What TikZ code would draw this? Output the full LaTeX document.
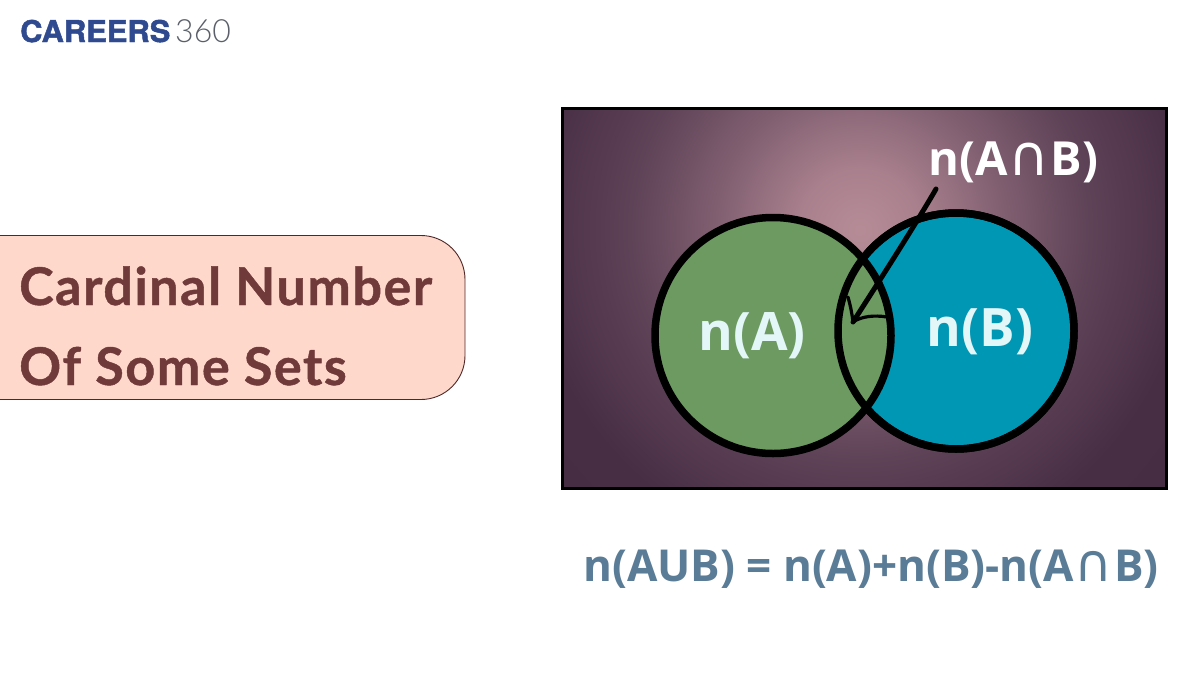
\documentclass[tikz,border=0pt]{standalone}
\usepackage{fontspec}
\setmainfont{Open Sans}
\newfontfamily\titlefont[LetterSpace=3.0,FakeBold=0.9]{Lato}
\newfontfamily\logofont[FakeStretch=1.03,FakeBold=1.6]{TeX Gyre Heros}
\newfontfamily\logolight[UprightFont=* Light]{Lato}
\newfontfamily\symfont{DejaVu Sans}
\definecolor{panelfill}{HTML}{FFD8CC}
\definecolor{titlecol}{HTML}{713A3A}
\definecolor{setA}{HTML}{6C9A61}
\definecolor{setB}{HTML}{0097B5}
\definecolor{labelcol}{HTML}{E3F6F8}
\definecolor{formulacol}{HTML}{5A7C96}
\definecolor{logocol}{HTML}{2F4A8F}
\definecolor{logogrey}{HTML}{5A5F6A}
\pgfdeclareradialshading{glow}{\pgfpoint{0bp}{0bp}}{
  rgb(0bp)=(0.71,0.55,0.59);
  rgb(3bp)=(0.66,0.50,0.55);
  rgb(7bp)=(0.50,0.37,0.44);
  rgb(11bp)=(0.37,0.26,0.34);
  rgb(16bp)=(0.28,0.18,0.27);
  rgb(50bp)=(0.23,0.15,0.23)}
\tikzset{
  x=1pt,y=-1pt,
  labeltext/.style={font=\bfseries\fontsize{53}{60}\selectfont,text=labelcol,inner sep=0pt,anchor=center},
  titletext/.style={font=\titlefont\bfseries\fontsize{52}{60}\selectfont,text=titlecol,inner sep=0pt,anchor=base west},
  setring/.style={circle,draw=black,line width=7.5pt,minimum size=236pt,inner sep=0pt},
  pointer/.style={draw=black,line cap=round,line join=round}
}
\begin{document}
\begin{tikzpicture}
\useasboundingbox (0,0) rectangle (1200,675);
\fill[white] (0,0) rectangle (1200,675);
% logo
\node[inner sep=0pt,anchor=base west,text=logocol,font=\logofont\bfseries\fontsize{30}{32}\selectfont] (logoA) at (20,42) {CAREERS};
\node[inner sep=0pt,anchor=base west,text=logogrey,font=\logolight\fontsize{32}{34}\selectfont] (logoB) at (175,42) {360};
% title panel
\draw[fill=panelfill,draw=titlecol!70!black,line width=0.9pt,rounded corners=44pt] (-60,235.5) rectangle (465,399.5);
\node[titletext] (t1) at (19,305) {Cardinal Number};
\node[titletext] (t2) at (19,385) {Of Some Sets};
% venn frame
\begin{scope}
\clip (562,108) rectangle (1166,488);
\path[shade,shading=glow] (340,-290) rectangle (1380,750);
\end{scope}
\draw[black,line width=3pt] (562,108) rectangle (1166,488);
\node[setring,fill=setB] (B) at (956,331) {};
\node[setring,fill=setA] (A) at (773,335.5) {};
\node[setring] (B2) at (956,331) {};
\node[labeltext] (nA) at (752,336) {n(A)};
\node[labeltext] (nB) at (980,332) {n(B)};
\node[inner sep=0pt,anchor=base west,text=white,font=\bfseries\fontsize{47}{60}\selectfont] (nAB) at (928,175) {n(A\kern1pt{\symfont\mdseries\fontsize{56}{60}\selectfont ∩}\kern1pt B)};
% arrow
\coordinate (tail) at (936,189);
\coordinate (tip) at (853,322);
\coordinate (barbA) at (848,297);
\coordinate (barbB) at (887,317);
\draw[pointer,line width=5pt] (tail) .. controls (917,222) and (880,280) .. (tip);
\draw[pointer,line width=3.2pt] (barbA) .. controls (851,308) and (852,314) .. (tip) .. controls (862,316) and (875,315) .. (barbB);
% formula
\node[inner sep=0pt,anchor=base west,text=formulacol,font=\bfseries\fontsize{44}{50}\selectfont] (formula) at (583,581) {n(AUB) = n(A)+n(B)-n(A\kern1pt{\symfont\mdseries\fontsize{52}{54}\selectfont ∩}\kern1pt B)};
\end{tikzpicture}
\end{document}
